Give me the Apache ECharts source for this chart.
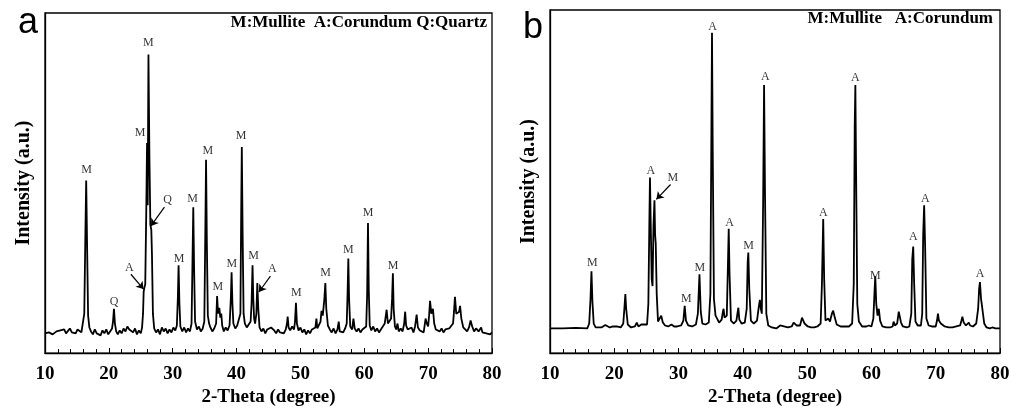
<!DOCTYPE html>
<html>
<head>
<meta charset="utf-8">
<script src="https://cdn.jsdelivr.net/npm/echarts@6/dist/echarts.min.js"></script>
<style>
html, body { margin: 0; padding: 0; background: #fff; }
#main { width: 1024px; height: 412px; }
</style>
</head>
<body>
<div id="main"></div>
<script>
// 2-theta / intensity pairs (a.u.)
var scanA = [
	[10.0, 20], [10.3, 19], [10.6, 21], [10.9, 20], [11.2, 19], [11.5, 21], [11.8, 22], [12.1, 20], [12.4, 23], [12.7, 21],
	[13.0, 24], [13.3, 20], [13.6, 22], [13.9, 25], [14.2, 21], [14.5, 23], [14.8, 20], [15.1, 24], [15.4, 22], [15.7, 21],
	[15.95, 23], [16.15, 40], [16.3, 110], [16.45, 175], [16.6, 105], [16.75, 38], [16.95, 26], [17.2, 22], [17.5, 19], [17.8, 24],
	[18.1, 20], [18.4, 22], [18.7, 18], [19.0, 23], [19.3, 20], [19.6, 24], [19.9, 19], [20.2, 22], [20.5, 25], [20.65, 32],
	[20.8, 45], [20.95, 30], [21.15, 22], [21.4, 19], [21.7, 23], [22.0, 20], [22.3, 25], [22.6, 22], [22.9, 27], [23.2, 24],
	[23.5, 26], [23.8, 21], [24.1, 25], [24.4, 19], [24.7, 23], [25.0, 20], [25.2, 26], [25.35, 40], [25.45, 62], [25.55, 66],
	[25.7, 70], [25.85, 140], [25.98, 213], [26.08, 150], [26.2, 303], [26.35, 200], [26.5, 130], [26.65, 125], [26.75, 100], [26.9, 40],
	[27.1, 25], [27.4, 21], [27.7, 24], [28.0, 19], [28.3, 26], [28.6, 22], [28.9, 25], [29.2, 20], [29.5, 24], [29.8, 21],
	[30.1, 26], [30.4, 23], [30.65, 28], [30.8, 55], [30.92, 89], [31.05, 50], [31.2, 27], [31.5, 22], [31.8, 26], [32.1, 21],
	[32.4, 25], [32.7, 22], [32.95, 30], [33.1, 95], [33.22, 148], [33.35, 85], [33.5, 32], [33.8, 24], [34.1, 27], [34.4, 22],
	[34.7, 25], [34.95, 32], [35.1, 120], [35.22, 196], [35.35, 110], [35.5, 38], [35.7, 30], [35.9, 26], [36.2, 22], [36.5, 25],
	[36.8, 30], [36.95, 58], [37.1, 40], [37.3, 46], [37.45, 36], [37.6, 40], [37.75, 28], [38.0, 22], [38.3, 26], [38.6, 23],
	[38.9, 28], [39.1, 55], [39.22, 82], [39.35, 50], [39.5, 30], [39.8, 25], [40.1, 28], [40.4, 26], [40.6, 40], [40.72, 140],
	[40.82, 209], [40.95, 120], [41.1, 40], [41.3, 30], [41.6, 26], [41.9, 29], [42.2, 32], [42.35, 50], [42.5, 89], [42.62, 55],
	[42.75, 35], [42.9, 30], [43.1, 40], [43.25, 71], [43.4, 45], [43.6, 26], [43.9, 22], [44.2, 25], [44.5, 20], [44.8, 24],
	[45.1, 22], [45.4, 26], [45.6, 28], [45.9, 23], [46.2, 20], [46.5, 24], [46.8, 21], [47.1, 23], [47.4, 20], [47.7, 24],
	[47.9, 30], [48.0, 37], [48.15, 26], [48.4, 23], [48.7, 27], [49.0, 24], [49.15, 32], [49.3, 51], [49.45, 30], [49.7, 23],
	[50.0, 26], [50.3, 21], [50.6, 24], [50.9, 19], [51.2, 23], [51.5, 20], [51.8, 24], [52.1, 22], [52.35, 26], [52.5, 35],
	[52.65, 25], [52.9, 24], [53.15, 32], [53.3, 43], [53.5, 38], [53.75, 55], [53.9, 71], [54.05, 45], [54.3, 28], [54.6, 24],
	[54.9, 21], [55.2, 25], [55.5, 20], [55.8, 24], [56.0, 32], [56.15, 22], [56.4, 24], [56.7, 21], [57.0, 25], [57.25, 30],
	[57.38, 60], [57.5, 96], [57.62, 55], [57.8, 27], [58.1, 24], [58.3, 35], [58.5, 25], [58.8, 22], [59.1, 25], [59.4, 21],
	[59.7, 24], [60.0, 22], [60.3, 27], [60.45, 60], [60.58, 132], [60.7, 65], [60.85, 28], [61.1, 23], [61.4, 27], [61.7, 22],
	[62.0, 25], [62.3, 21], [62.6, 24], [62.9, 27], [63.2, 30], [63.5, 44], [63.7, 30], [63.95, 29], [64.2, 35], [64.35, 55],
	[64.48, 81], [64.6, 45], [64.8, 27], [65.0, 24], [65.2, 30], [65.4, 22], [65.7, 25], [66.0, 22], [66.25, 30], [66.4, 42],
	[66.55, 28], [66.8, 24], [67.1, 22], [67.4, 26], [67.7, 21], [67.95, 27], [68.2, 39], [68.4, 26], [68.7, 23], [69.0, 25],
	[69.3, 21], [69.6, 35], [69.8, 30], [70.0, 27], [70.15, 38], [70.3, 53], [70.5, 40], [70.75, 45], [70.95, 30], [71.2, 24],
	[71.5, 26], [71.8, 22], [72.1, 25], [72.4, 21], [72.7, 24], [73.0, 22], [73.3, 25], [73.6, 23], [73.9, 30], [74.05, 42],
	[74.2, 57], [74.4, 40], [74.6, 38], [74.85, 42], [75.0, 48], [75.2, 35], [75.5, 26], [75.8, 24], [76.1, 22], [76.4, 26],
	[76.65, 33], [76.9, 27], [77.2, 22], [77.5, 25], [77.7, 27], [77.9, 22], [78.1, 24], [78.3, 26], [78.5, 21], [78.8, 23],
	[79.1, 20], [79.4, 22], [79.7, 19], [80.0, 21]
];
var scanB = [
	[10.0, 25], [12.0, 25], [14.0, 25.5], [15.8, 25], [16.1, 30], [16.3, 55], [16.45, 83], [16.6, 52], [16.8, 30], [17.1, 26],
	[18.0, 26], [18.3, 27], [18.6, 28.5], [18.9, 27], [19.3, 26], [19.8, 27], [20.1, 29], [20.4, 27], [21.0, 26], [21.4, 30],
	[21.6, 48], [21.72, 60], [21.85, 45], [22.1, 29], [22.6, 26], [23.2, 27], [23.5, 31], [23.75, 27], [24.2, 29], [24.5, 27],
	[25.1, 29], [25.3, 50], [25.45, 130], [25.55, 178], [25.7, 120], [25.82, 75], [25.95, 68], [26.1, 130], [26.25, 155], [26.35, 120],
	[26.45, 111], [26.6, 60], [26.8, 32], [27.1, 30], [27.3, 38], [27.4, 40], [27.55, 31], [27.9, 28], [28.4, 27], [28.9, 29],
	[29.3, 27], [29.8, 27], [30.4, 28], [30.75, 33], [30.95, 48], [31.15, 33], [31.5, 28], [32.1, 27], [32.7, 29], [33.0, 40],
	[33.25, 80], [33.45, 42], [33.7, 30], [34.2, 29], [34.7, 31], [34.95, 60], [35.1, 220], [35.2, 325], [35.32, 200], [35.5, 55],
	[35.75, 38], [36.0, 35], [36.3, 31], [36.7, 34], [36.9, 42], [37.0, 45], [37.15, 36], [37.5, 38], [37.68, 90], [37.8, 126],
	[37.93, 80], [38.15, 33], [38.6, 30], [39.0, 33], [39.2, 42], [39.3, 46], [39.45, 34], [39.8, 30], [40.3, 31], [40.6, 45],
	[40.75, 92], [40.85, 102], [41.0, 65], [41.25, 33], [41.7, 30], [42.2, 33], [42.5, 48], [42.65, 54], [42.8, 45], [42.95, 40],
	[43.15, 150], [43.3, 272], [43.45, 160], [43.65, 40], [43.95, 28], [44.5, 26], [45.2, 25], [45.8, 28], [46.1, 30], [46.4, 27],
	[47.0, 26], [47.6, 27], [47.9, 31], [48.1, 33], [48.35, 28], [48.9, 28], [49.2, 36], [49.4, 37], [49.6, 30], [50.1, 27],
	[50.6, 26], [50.85, 28], [51.1, 26], [51.6, 27], [52.1, 30], [52.3, 70], [52.5, 136], [52.65, 75], [52.85, 33], [53.1, 31],
	[53.3, 35], [53.55, 32], [53.85, 40], [54.05, 43], [54.3, 36], [54.6, 29], [55.2, 27], [55.8, 27], [56.5, 27], [57.0, 30],
	[57.25, 70], [57.4, 230], [57.5, 272], [57.62, 180], [57.8, 50], [58.05, 32], [58.3, 30], [58.55, 27], [59.2, 27], [59.6, 28],
	[59.8, 30], [60.0, 27], [60.3, 35], [60.5, 65], [60.6, 78], [60.75, 50], [60.95, 38], [61.15, 45], [61.35, 33], [61.7, 27],
	[62.3, 26], [62.9, 26], [63.3, 27], [63.45, 32], [63.65, 28], [64.0, 30], [64.25, 42], [64.4, 44], [64.6, 31], [64.9, 27],
	[65.2, 28], [65.5, 26], [65.9, 27], [66.2, 40], [66.35, 95], [66.5, 108], [66.65, 70], [66.85, 32], [67.2, 28], [67.7, 28],
	[67.9, 40], [68.05, 120], [68.2, 150], [68.35, 110], [68.55, 35], [68.9, 28], [69.4, 27], [69.7, 28.5], [70.0, 27], [70.2, 33],
	[70.35, 40], [70.5, 33], [70.8, 30], [71.05, 30], [71.4, 27], [72.0, 26], [72.6, 26], [73.2, 27], [73.8, 28], [74.0, 33],
	[74.15, 37], [74.35, 31], [74.7, 28], [74.95, 29], [75.15, 31], [75.35, 28], [75.8, 27], [76.3, 30], [76.6, 45], [76.75, 65],
	[76.88, 72], [77.05, 55], [77.2, 48], [77.35, 40], [77.55, 30], [77.9, 26], [78.4, 25], [78.8, 26], [79.3, 25], [80.0, 25]
];

// peak letters: [2theta, intensity, phase]
var peaksA = [
	[16.5, 186, 'M'], [20.83, 52, 'Q'], [23.2, 86, 'A'], [24.9, 223, 'M'], [26.2, 315, 'M'], [29.2, 155, 'Q'],
	[31.0, 96, 'M'], [33.1, 156, 'M'], [35.5, 205, 'M'], [37.05, 67, 'M'], [39.25, 91, 'M'], [40.7, 220, 'M'],
	[42.65, 99, 'M'], [45.6, 85, 'A'], [49.35, 61, 'M'], [53.95, 81, 'M'], [57.5, 105, 'M'], [60.6, 142, 'M'], [64.5, 89, 'M']
];
var peaksB = [
	[16.6, 92, 'M'], [25.7, 185, 'A'], [29.1, 178, 'M'], [31.2, 55, 'M'], [33.3, 86, 'M'], [35.3, 331, 'A'],
	[37.95, 132, 'A'], [40.9, 109, 'M'], [43.5, 280, 'A'], [52.5, 142, 'A'], [57.5, 279, 'A'], [60.6, 78, 'M'],
	[66.5, 118, 'A'], [68.4, 156, 'A'], [76.9, 80, 'A']
];
// arrows: [from x, from y, to x, to y]
var arrowsA = [[23.45, 80, 25.43, 65], [28.7, 148, 26.6, 129], [45.3, 78, 43.5, 62]];
var arrowsB = [[28.75, 171, 26.55, 156]];

var xTicks = [10, 20, 30, 40, 50, 60, 70, 80];
var phaseA = 'M:Mullite  A:Corundum Q:Quartz';
var phaseB = 'M:Mullite   A:Corundum';

var serif = 'Liberation Serif';

function makeX(idx) {
	return {
		type: 'value',
		gridIndex: idx,
		min: xTicks[0],
		max: xTicks[xTicks.length - 1],
		interval: xTicks[1] - xTicks[0],
		name: '2-Theta (degree)',
		nameLocation: 'middle',
		nameGap: 34,
		nameTextStyle: { fontFamily: serif, fontWeight: 'bold', fontSize: 19, color: '#000' },
		axisLine: { lineStyle: { color: '#000', width: 1.3 } },
		axisTick: { inside: true, length: 5, lineStyle: { color: '#000', width: 1 } },
		minorTick: { show: true, splitNumber: 5, length: 4, lineStyle: { color: '#000', width: 1 } },
		axisLabel: { fontFamily: serif, fontWeight: 'bold', fontSize: 19, color: '#000', margin: 11 },
		splitLine: { show: false }
	};
}

function makeY(idx, max) {
	return {
		type: 'value',
		gridIndex: idx,
		min: 0,
		max: max,
		name: 'Intensity (a.u.)',
		nameLocation: 'middle',
		nameGap: 11,
		nameTextStyle: { fontFamily: serif, fontWeight: 'bold', fontSize: 20, color: '#000' },
		axisLine: { show: true, lineStyle: { color: '#000', width: 1.3 } },
		axisTick: { show: false },
		axisLabel: { show: false },
		splitLine: { show: false }
	};
}

function makeLine(idx, scan) {
	return {
		type: 'line',
		xAxisIndex: idx,
		yAxisIndex: idx,
		data: scan,
		showSymbol: false,
		lineStyle: { color: '#000', width: 1.8 },
		animation: false
	};
}

function makeMarks(idx, peaks, arrows) {
	return {
		type: 'scatter',
		xAxisIndex: idx,
		yAxisIndex: idx,
		symbolSize: 0,
		data: peaks,
		label: {
			show: true,
			position: 'inside',
			formatter: function(p) { return p.value[2]; },
			fontFamily: serif,
			fontSize: 12,
			color: '#000'
		},
		markLine: {
			silent: true,
			symbol: ['none', 'arrow'],
			symbolSize: 7,
			label: { show: false },
			lineStyle: { color: '#000', width: 1.2, type: 'solid' },
			data: arrows.map(function(a) {
				return [{ coord: [a[0], a[1]] }, { coord: [a[2], a[3]] }];
			})
		},
		animation: false
	};
}

var chart = echarts.init(document.getElementById('main'));
chart.setOption({
	backgroundColor: '#fff',
	animation: false,
	grid: [
		{ left: 45, right: 532, top: 13, bottom: 54, show: true, borderColor: '#000', borderWidth: 1.3 },
		{ left: 550, right: 24, top: 10, bottom: 54, show: true, borderColor: '#000', borderWidth: 1.3 }
	],
	xAxis: [makeX(0), makeX(1)],
	yAxis: [makeY(0, 345), makeY(1, 348)],
	series: [
		makeLine(0, scanA), makeMarks(0, peaksA, arrowsA),
		makeLine(1, scanB), makeMarks(1, peaksB, arrowsB)
	],
	graphic: [
		{ type: 'text', style: { x: 18, y: 41, text: 'a', fontFamily: 'Liberation Sans', fontSize: 36, fill: '#000', verticalAlign: 'bottom' } },
		{ type: 'text', style: { x: 523, y: 46, text: 'b', fontFamily: 'Liberation Sans', fontSize: 36, fill: '#000', verticalAlign: 'bottom' } },
		{ type: 'text', style: { x: 487, y: 23, text: phaseA, align: 'right', verticalAlign: 'middle', fontFamily: serif, fontWeight: 'bold', fontSize: 17, fill: '#000' } },
		{ type: 'text', style: { x: 993, y: 19, text: phaseB, align: 'right', verticalAlign: 'middle', fontFamily: serif, fontWeight: 'bold', fontSize: 17, fill: '#000' } }
	]
});
</script>
</body>
</html>
